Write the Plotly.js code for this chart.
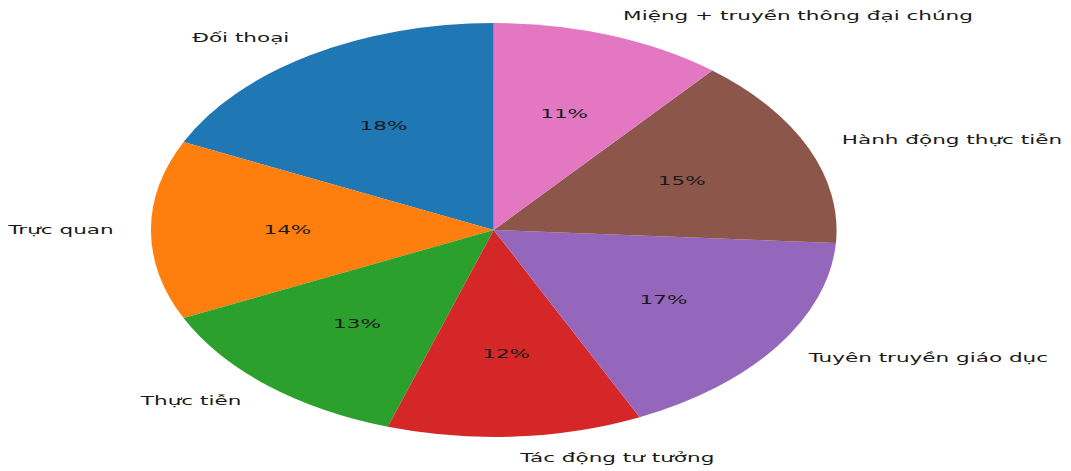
<!DOCTYPE html>
<html>
<head>
<meta charset="utf-8">
<script src="https://cdn.plot.ly/plotly-3.0.1.min.js"></script>
<style>
  html, body { margin: 0; padding: 0; overflow: hidden; background: #fff; }
  #wrap { width: 1071px; height: 471px; overflow: hidden; }
  #chart { transform-origin: 0 0; }
</style>
</head>
<body>
<div id="wrap"><div id="chart"></div></div>
<script>
const categories = ["Đối thoại", "Trực quan", "Thực tiễn", "Tác động tư tưởng", "Tuyên truyền giáo dục", "Hành động thực tiễn", "Miệng + truyền thông đại chúng"];
const shares = [18, 14, 13, 12, 17, 15, 11];
const colors = ["#1f77b4", "#ff7f0e", "#2ca02c", "#d62728", "#9467bd", "#8c564b", "#e377c2"];

// Layout geometry (the original figure is horizontally stretched)
const stretch = 343 / 207;
const H = 471;
const W = 1071 / stretch;
const R = 207;
const cx = 494 / stretch;
const cy = 230;

const el = document.getElementById('chart');
el.style.transform = 'scaleX(' + stretch + ')';

const total = shares.reduce((a, b) => a + b, 0);
const annotations = [];
let cum = 0;
shares.forEach((v, i) => {
  const mid = (90 + (cum + v / 2) / total * 360) * Math.PI / 180;
  cum += v;
  const c = Math.cos(mid), s = Math.sin(mid);
  annotations.push({
    xref: 'paper', yref: 'paper',
    x: (cx + 1.1 * R * c) / W, y: 1 - (cy - 1.1 * R * s) / H,
    text: categories[i], showarrow: false,
    xanchor: c > 0 ? 'left' : 'right', yanchor: 'middle',
    font: {family: 'DejaVu Sans', size: 13, color: '#1a1a1a'}, borderpad: 0
  });
  annotations.push({
    xref: 'paper', yref: 'paper',
    x: (cx + 0.6 * R * c) / W, y: 1 - (cy - 0.6 * R * s) / H,
    text: Math.round(v / total * 100) + '%', showarrow: false,
    xanchor: 'center', yanchor: 'middle',
    font: {family: 'DejaVu Sans', size: 13, color: '#1a1a1a'}, borderpad: 0
  });
});

const trace = {
  type: 'pie',
  labels: categories,
  values: shares,
  sort: false,
  direction: 'counterclockwise',
  rotation: -360 * shares[0] / total,
  marker: {colors: colors, line: {width: 0}},
  textinfo: 'none',
  hoverinfo: 'skip',
  showlegend: false,
  domain: {x: [(cx - R) / W, (cx + R) / W], y: [1 - (cy + R) / H, 1 - (cy - R) / H]}
};

Plotly.newPlot(el, [trace], {
  width: W, height: H,
  margin: {l: 0, r: 0, t: 0, b: 0},
  paper_bgcolor: '#fff',
  showlegend: false,
  annotations: annotations
}, {displayModeBar: false, staticPlot: true});
</script>
</body>
</html>
